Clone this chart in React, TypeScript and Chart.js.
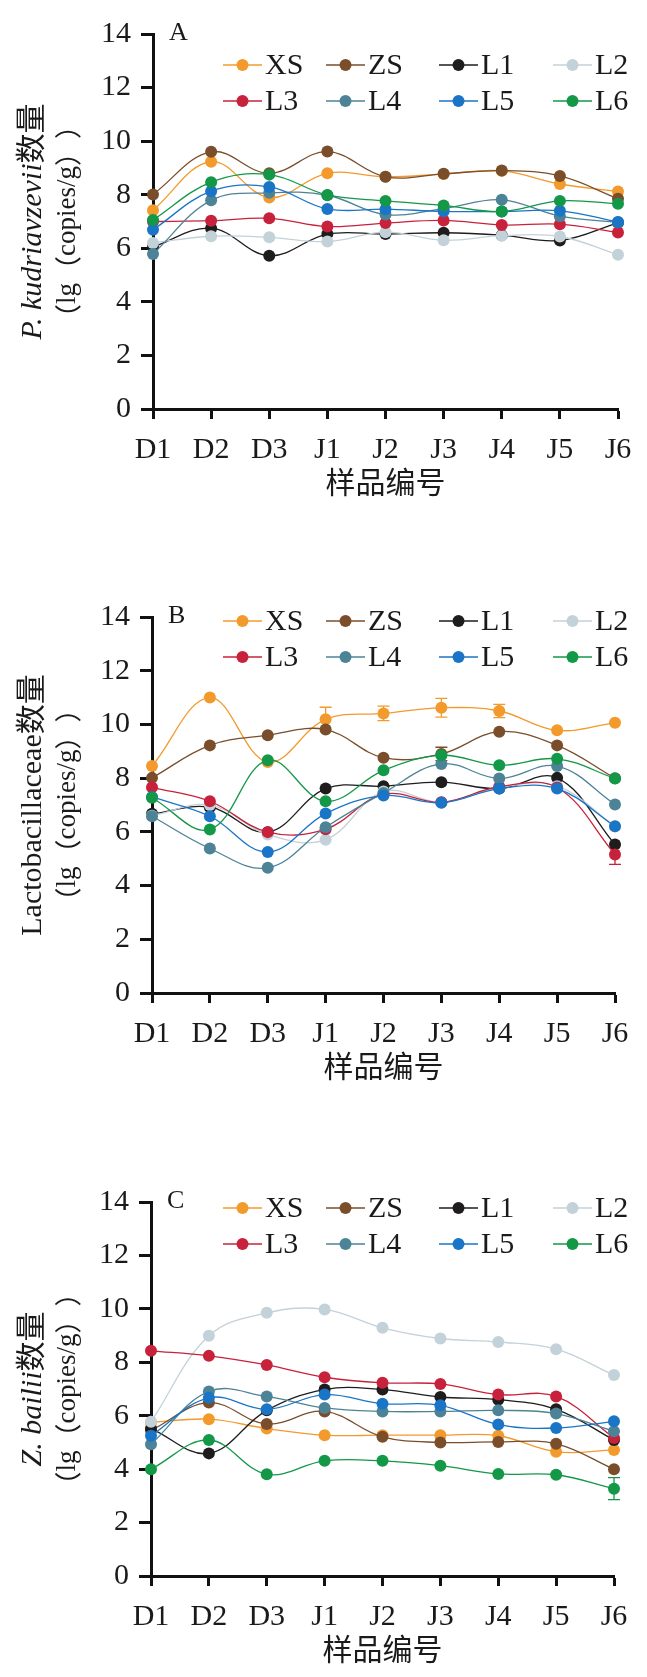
import { useEffect, useRef } from 'react';
import { Chart, registerables } from 'chart.js';

Chart.register(...registerables);

// ---- shared labels ----
const categories = ['D1', 'D2', 'D3', 'J1', 'J2', 'J3', 'J4', 'J5', 'J6'];
const seriesNames = ['XS', 'ZS', 'L1', 'L2', 'L3', 'L4', 'L5', 'L6'];
const seriesColors = ['#F39A2C', '#7A4E2B', '#1E1C1D', '#C3D2D9', '#C8213B', '#4D8397', '#1B75C6', '#139848'];
const yMin = 0;
const yMax = 14;
const yStep = 2;

// ---- A: P. kudriavzevii (lg copies/g) ----
const kudXS = [7.42, 9.23, 7.9, 8.8, 8.67, 8.77, 8.89, 8.4, 8.12];
const kudZS = [8.01, 9.6, 8.8, 9.61, 8.67, 8.78, 8.9, 8.7, 7.85];
const kudL1 = [6.05, 6.75, 5.72, 6.53, 6.53, 6.58, 6.49, 6.29, 6.95];
const kudL2 = [6.2, 6.45, 6.41, 6.25, 6.6, 6.3, 6.47, 6.44, 5.76];
const kudL3 = [7.0, 7.03, 7.12, 6.81, 6.94, 7.04, 6.87, 6.9, 6.59];
const kudL4 = [5.79, 7.79, 8.07, 7.98, 7.26, 7.48, 7.81, 7.2, 6.97];
const kudL5 = [6.69, 8.13, 8.29, 7.47, 7.46, 7.38, 7.37, 7.4, 6.98];
const kudL6 = [7.06, 8.47, 8.75, 7.99, 7.77, 7.6, 7.37, 7.77, 7.66];

// ---- B: Lactobacillaceae (lg copies/g) ----
const lacXS = [8.45, 11.0, 8.6, 10.19, 10.41, 10.62, 10.5, 9.78, 10.06];
const lacZS = [8.01, 9.22, 9.6, 9.81, 8.76, 8.9, 9.73, 9.22, 8.0];
const lacL1 = [6.67, 6.92, 5.99, 7.61, 7.7, 7.85, 7.61, 8.01, 5.53];
const lacL2 = [6.6, 7.0, 5.9, 5.71, 7.5, 7.1, 7.65, 7.7, 6.2];
const lacL3 = [7.66, 7.14, 5.99, 6.1, 7.4, 7.1, 7.68, 7.65, 5.16];
const lacL4 = [6.58, 5.38, 4.66, 6.17, 7.45, 8.53, 7.99, 8.45, 7.02];
const lacL5 = [7.3, 6.58, 5.25, 6.68, 7.35, 7.08, 7.61, 7.61, 6.21];
const lacL6 = [7.27, 6.09, 8.67, 7.14, 8.29, 8.85, 8.48, 8.72, 7.99];
const lacXSErr = [0, 0, 0, 0.45, 0.27, 0.35, 0.25, 0, 0];
const lacZSErr = [0, 0, 0, 0, 0, 0.25, 0, 0, 0];
const lacL3Err = [0, 0, 0, 0, 0, 0, 0, 0, 0.37];

// ---- C: Z. bailii (lg copies/g) ----
const zbXS = [5.75, 5.87, 5.52, 5.27, 5.27, 5.27, 5.25, 4.65, 4.72];
const zbZS = [5.45, 6.49, 5.69, 6.16, 5.21, 5.0, 5.02, 4.95, 4.0];
const zbL1 = [5.52, 4.59, 6.2, 6.98, 6.98, 6.7, 6.6, 6.24, 5.09];
const zbL2 = [5.77, 8.99, 9.85, 9.98, 9.29, 8.89, 8.76, 8.49, 7.52];
const zbL3 = [8.43, 8.24, 7.9, 7.44, 7.23, 7.19, 6.79, 6.72, 5.17];
const zbL4 = [4.93, 6.91, 6.72, 6.29, 6.16, 6.16, 6.2, 6.08, 5.42];
const zbL5 = [5.25, 6.67, 6.24, 6.79, 6.45, 6.39, 5.67, 5.54, 5.79];
const zbL6 = [4.0, 5.09, 3.81, 4.31, 4.31, 4.13, 3.82, 3.79, 3.27];
const zbL6Err = [0, 0, 0, 0, 0, 0, 0, 0, 0.41];

const SERIF = '"Liberation Serif", "Times New Roman", serif';
const CJK_ONLY = '"Noto Sans CJK SC", sans-serif';
const MIXED = '"Liberation Serif", "Noto Sans CJK SC", serif';
const INK = '#1a1a1a';
const PAGE_W = 647;

type PanelCfg = {
  letter: string;
  titleItalic: string;
  titlePlain: string;
  values: number[][];
  errors: (number[] | null)[];
  canvasTop: number;
  canvasHeight: number;
  plotTop: number;
  plotBottom: number;
  plotLeft: number;
  plotRight: number;
  legendRows: number[];
};

const panels: PanelCfg[] = [
  {
    letter: 'A',
    titleItalic: 'P. kudriavzevii',
    titlePlain: '数量',
    values: [kudXS, kudZS, kudL1, kudL2, kudL3, kudL4, kudL5, kudL6],
    errors: [null, null, null, null, null, null, null, null],
    canvasTop: 0,
    canvasHeight: 540,
    plotTop: 34,
    plotBottom: 409,
    plotLeft: 153,
    plotRight: 618,
    legendRows: [31, 67],
  },
  {
    letter: 'B',
    titleItalic: '',
    titlePlain: 'Lactobacillaceae数量',
    values: [lacXS, lacZS, lacL1, lacL2, lacL3, lacL4, lacL5, lacL6],
    errors: [lacXSErr, lacZSErr, null, null, lacL3Err, null, null, null],
    canvasTop: 545,
    canvasHeight: 560,
    plotTop: 617,
    plotBottom: 993,
    plotLeft: 152,
    plotRight: 615,
    legendRows: [4, 40],
  },
  {
    letter: 'C',
    titleItalic: 'Z. bailii',
    titlePlain: '数量',
    values: [zbXS, zbZS, zbL1, zbL2, zbL3, zbL4, zbL5, zbL6],
    errors: [null, null, null, null, null, null, null, zbL6Err],
    canvasTop: 1120,
    canvasHeight: 557,
    plotTop: 1202,
    plotBottom: 1576,
    plotLeft: 151,
    plotRight: 614,
    legendRows: [6, 42],
  },
];

// legend column starts (line start x) relative to the page
const legendCols = [223, 326, 439, 553];

// unit line of the y titles: full-width brackets from the CJK face, letters in serif
const unitParts: [string, string][] = [
  ['（', CJK_ONLY],
  ['lg', SERIF],
  ['（', CJK_ONLY],
  ['copies/g', SERIF],
  ['）', CJK_ONLY],
  ['）', CJK_ONLY],
];

// whiskers for the standard deviations, drawn under the markers
const errorBars = {
  id: 'errorBars',
  beforeDatasetsDraw(chart: any, _args: any, opts: any) {
    const { ctx } = chart;
    const y = chart.scales.y;
    const x = chart.scales.x;
    const errs: (number[] | null)[] = opts.errors || [];
    ctx.save();
    errs.forEach((arr, di) => {
      if (!arr) return;
      const vals = chart.data.datasets[di].data as number[];
      ctx.strokeStyle = seriesColors[di];
      ctx.lineWidth = 1.3;
      arr.forEach((e, i) => {
        if (!e) return;
        const px = x.getPixelForValue(i);
        const top = y.getPixelForValue(vals[i] + e);
        const bot = y.getPixelForValue(vals[i] - e);
        ctx.beginPath();
        ctx.moveTo(px, top);
        ctx.lineTo(px, bot);
        ctx.moveTo(px - 6, top);
        ctx.lineTo(px + 6, top);
        ctx.moveTo(px - 6, bot);
        ctx.lineTo(px + 6, bot);
        ctx.stroke();
      });
    });
    ctx.restore();
  },
};

// panel letter, legend grid and axis titles
const panelDecor = {
  id: 'panelDecor',
  afterDraw(chart: any, _args: any, opts: any) {
    const { ctx, chartArea } = chart;
    const { left, right, top, bottom } = chartArea;
    ctx.save();
    ctx.fillStyle = INK;

    // panel letter
    ctx.font = `26px ${SERIF}`;
    ctx.textAlign = 'left';
    ctx.textBaseline = 'middle';
    ctx.fillText(opts.letter, left + 16, top - 1);

    // legend
    seriesNames.forEach((name, i) => {
      const row = Math.floor(i / 4);
      const col = i % 4;
      const x0 = legendCols[col];
      const yy = top + opts.legendRows[row];
      ctx.strokeStyle = seriesColors[i];
      ctx.lineWidth = 1.3;
      ctx.beginPath();
      ctx.moveTo(x0, yy);
      ctx.lineTo(x0 + 39, yy);
      ctx.stroke();
      ctx.fillStyle = seriesColors[i];
      ctx.beginPath();
      ctx.arc(x0 + 19.5, yy, 6, 0, Math.PI * 2);
      ctx.fill();
      ctx.fillStyle = INK;
      ctx.font = `30px ${SERIF}`;
      ctx.textAlign = 'left';
      ctx.textBaseline = 'middle';
      ctx.fillText(name, x0 + 42, yy + 1);
    });

    // x axis title
    ctx.font = `30px ${CJK_ONLY}`;
    ctx.textAlign = 'center';
    ctx.textBaseline = 'middle';
    ctx.fillStyle = INK;
    ctx.fillText('样品编号', (left + right) / 2, bottom + 73);

    // y axis title, first line (species name in italics)
    const midY = (top + bottom) / 2;
    ctx.save();
    ctx.translate(33, midY);
    ctx.rotate(-Math.PI / 2);
    ctx.textBaseline = 'middle';
    ctx.textAlign = 'left';
    const italicFont = `italic 30px ${SERIF}`;
    const plainFont = `30px ${MIXED}`;
    ctx.font = italicFont;
    const wi = opts.titleItalic ? ctx.measureText(opts.titleItalic).width : 0;
    ctx.font = plainFont;
    const wp = ctx.measureText(opts.titlePlain).width;
    let sx = -(wi + wp) / 2;
    if (opts.titleItalic) {
      ctx.font = italicFont;
      ctx.fillText(opts.titleItalic, sx, 0);
      sx += wi;
    }
    ctx.font = plainFont;
    ctx.fillText(opts.titlePlain, sx, 0);
    ctx.restore();

    // y axis title, second line (unit)
    ctx.save();
    ctx.translate(68, midY);
    ctx.rotate(-Math.PI / 2);
    ctx.textBaseline = 'middle';
    ctx.textAlign = 'left';
    const widths = unitParts.map(([t, f]) => {
      ctx.font = `27px ${f}`;
      return ctx.measureText(t).width;
    });
    let ux = -widths.reduce((a, b) => a + b, 0) / 2;
    unitParts.forEach(([t, f], k) => {
      ctx.font = `27px ${f}`;
      ctx.fillText(t, ux, 0);
      ux += widths[k];
    });
    ctx.restore();

    ctx.restore();
  },
};

function Panel({ cfg }: { cfg: PanelCfg }) {
  const ref = useRef<HTMLCanvasElement>(null);

  useEffect(() => {
    const canvas = ref.current;
    if (!canvas) return;
    const plotTop = cfg.plotTop - cfg.canvasTop;
    const plotBottom = cfg.plotBottom - cfg.canvasTop;
    const xAxisHeight = cfg.canvasHeight - plotBottom;

    const datasets = seriesNames.map((name, i) => ({
      label: name,
      data: cfg.values[i],
      borderColor: seriesColors[i],
      backgroundColor: seriesColors[i],
      borderWidth: 1.3,
      pointRadius: 6,
      pointBorderWidth: 0,
      pointBackgroundColor: seriesColors[i],
      pointHoverRadius: 6,
      tension: 0.38,
      fill: false,
      clip: false as any,
      order: seriesNames.length - i,
    }));

    const axisGrid = {
      display: true,
      drawOnChartArea: false,
      drawTicks: true,
      tickColor: '#111',
      tickWidth: 3,
    };

    const chart = new Chart(canvas, {
      type: 'line',
      data: { labels: categories, datasets },
      options: {
        responsive: false,
        animation: false,
        events: [],
        layout: {
          padding: { top: plotTop, right: PAGE_W - cfg.plotRight, bottom: 0, left: 0 },
        },
        plugins: {
          legend: { display: false },
          tooltip: { enabled: false },
          title: { display: false },
          errorBars: { errors: cfg.errors },
          panelDecor: {
            letter: cfg.letter,
            titleItalic: cfg.titleItalic,
            titlePlain: cfg.titlePlain,
            legendRows: cfg.legendRows,
          },
        } as any,
        scales: {
          x: {
            type: 'category',
            offset: false,
            grid: { ...axisGrid, tickLength: 10 },
            border: { display: true, color: '#111', width: 3 },
            ticks: {
              color: INK,
              font: { family: SERIF, size: 30 },
              padding: 13,
              autoSkip: false,
              maxRotation: 0,
              minRotation: 0,
            },
            afterFit: (scale: any) => {
              scale.height = xAxisHeight;
            },
          },
          y: {
            min: yMin,
            max: yMax,
            grid: { ...axisGrid, tickLength: 12 },
            border: { display: true, color: '#111', width: 3 },
            ticks: {
              stepSize: yStep,
              color: INK,
              font: { family: SERIF, size: 30 },
              padding: 10,
            },
            afterFit: (scale: any) => {
              scale.width = cfg.plotLeft;
            },
          },
        },
      },
      plugins: [errorBars, panelDecor],
    });

    return () => chart.destroy();
  }, [cfg]);

  return (
    <canvas
      ref={ref}
      width={PAGE_W}
      height={cfg.canvasHeight}
      style={{
        position: 'absolute',
        left: 0,
        top: cfg.canvasTop,
        width: PAGE_W,
        height: cfg.canvasHeight,
        display: 'block',
      }}
    />
  );
}

export default function App() {
  return (
    <div
      style={{
        position: 'absolute',
        left: 0,
        top: 0,
        width: PAGE_W,
        height: 1677,
        background: '#ffffff',
        overflow: 'hidden',
      }}
    >
      {panels.map((p) => (
        <Panel key={p.letter} cfg={p} />
      ))}
    </div>
  );
}
